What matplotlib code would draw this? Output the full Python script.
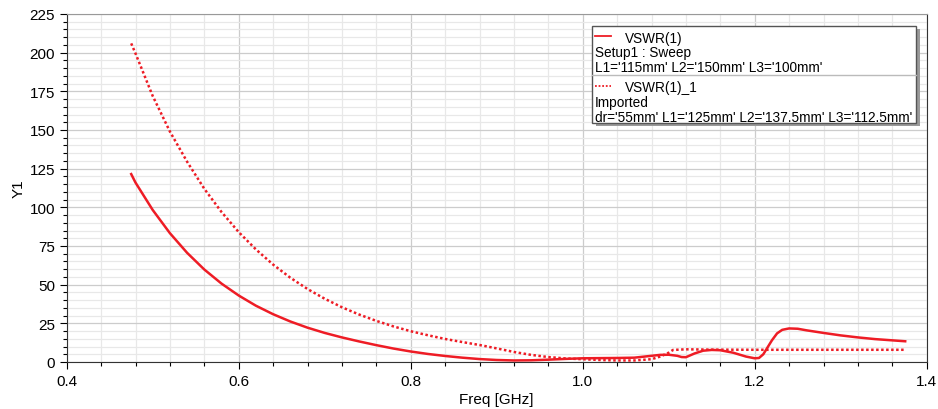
"""VSWR sweep vs imported design: recreated chart."""

import matplotlib
matplotlib.use("Agg")
import matplotlib.pyplot as plt
from matplotlib.patches import Rectangle
from matplotlib.lines import Line2D
from matplotlib.ticker import MultipleLocator

plt.rcParams["font.family"] = ["Liberation Sans", "DejaVu Sans"]

RED = "#ee1c25"

# solid trace: VSWR(1), Setup1 : Sweep
FREQ_SWEEP = [0.475, 0.48, 0.50, 0.52, 0.54, 0.56, 0.58, 0.60, 0.62, 0.64, 0.66,
              0.68, 0.70, 0.72, 0.74, 0.76, 0.78, 0.80, 0.82, 0.84, 0.86, 0.88,
              0.90, 0.92, 0.94, 0.96, 0.98, 1.00, 1.02, 1.04, 1.06, 1.08, 1.09,
              1.10, 1.11, 1.115, 1.12, 1.13, 1.14, 1.15, 1.16, 1.175, 1.19,
              1.20, 1.205, 1.21, 1.215, 1.22, 1.226, 1.232, 1.24, 1.25, 1.26,
              1.28, 1.30, 1.32, 1.34, 1.36, 1.375]
VSWR_SWEEP = [121.5, 116, 98.3, 83.3, 70.6, 59.8, 50.7, 43, 36.4, 30.9, 26.2,
              22.2, 18.8, 15.9, 13.3, 10.9, 8.7, 6.8, 5.2, 3.9, 2.8, 1.9,
              1.3, 1.0, 1.1, 1.5, 2.0, 2.4, 2.5, 2.6, 2.8, 4.0, 4.6,
              4.7, 4.0, 3.2, 3.1, 5.5, 7.3, 7.8, 7.6, 6.0, 3.5,
              2.4, 2.6, 5.0, 9.5, 14, 18.5, 20.8, 21.7, 21.5, 20.5,
              18.8, 17.2, 15.9, 14.8, 14.0, 13.4]

# dotted trace: VSWR(1)_1, Imported
FREQ_IMPORT = [0.475, 0.48, 0.50, 0.52, 0.54, 0.56, 0.58, 0.60, 0.62, 0.64, 0.66,
               0.68, 0.70, 0.72, 0.74, 0.76, 0.78, 0.80, 0.82, 0.84, 0.86, 0.88,
               0.90, 0.92, 0.94, 0.96, 0.98, 1.00, 1.02, 1.04, 1.06, 1.08, 1.09,
               1.10, 1.105, 1.12, 1.15, 1.20, 1.25, 1.30, 1.375]
VSWR_IMPORT = [206, 199.5, 172, 149, 129.5, 112, 97, 84, 72.8, 63, 54.5,
               47.2, 40.9, 35.4, 30.7, 26.6, 23, 19.9, 17.3, 14.9, 12.9, 11.0,
               8.8, 6.5, 4.6, 3.2, 2.3, 1.8, 1.3, 1.0, 1.0, 1.8, 3.5,
               6.0, 7.8, 8.2, 8.0, 7.9, 7.9, 7.9, 7.9]

LEGEND_ROWS = [
    ("VSWR(1)", "Setup1 : Sweep", "L1='115mm' L2='150mm' L3='100mm'", "-"),
    ("VSWR(1)_1", "Imported", "dr='55mm' L1='125mm' L2='137.5mm' L3='112.5mm'", ":"),
]

W, H = 938, 410
fig = plt.figure(figsize=(W / 100, H / 100), dpi=100)
ax = fig.add_axes([66.7 / W, 1 - 363 / H, (926.7 - 66.7) / W, (363 - 15) / H])

ax.plot(FREQ_SWEEP, VSWR_SWEEP, color=RED, lw=1.8, ls="-", zorder=3)
ax.plot(FREQ_IMPORT, VSWR_IMPORT, color=RED, lw=1.8, ls=(0, (1, 1)), zorder=3)

ax.set_xlim(0.4, 1.4)
ax.set_ylim(0, 225)
ax.xaxis.set_major_locator(MultipleLocator(0.2))
ax.xaxis.set_minor_locator(MultipleLocator(0.04))
ax.yaxis.set_major_locator(MultipleLocator(25))
ax.yaxis.set_minor_locator(MultipleLocator(5))
ax.xaxis.set_major_formatter(plt.FuncFormatter(lambda v, _: f"{v:.1f}"))
ax.grid(which="major", color="#cccccc", lw=0.9)
ax.grid(which="minor", color="#e8e8e8", lw=0.9)
ax.set_axisbelow(True)
ax.tick_params(which="major", direction="out", length=5, width=0.8, labelsize=11)
ax.tick_params(which="minor", direction="out", length=3, width=0.8)
for side in ["left", "bottom", "right"]:
    ax.spines[side].set_color("#333333")
ax.spines["top"].set_color("#999999")
ax.set_xlabel("Freq [GHz]", fontsize=11, labelpad=3)
ax.set_ylabel("Y1", fontsize=11, labelpad=3)


# legend box drawn in pixel space (top-left origin)
def px(x, y):
    return x / W, 1 - y / H


bx0, by0, bx1, by1 = 592, 27, 915.5, 124
fig.patches.append(Rectangle(px(bx0 + 4, by1 + 3), (bx1 - bx0) / W, (by1 - by0) / H,
                             transform=fig.transFigure, facecolor="#9a9a9a",
                             edgecolor="none", zorder=4))
fig.patches.append(Rectangle(px(bx0, by1), (bx1 - bx0) / W, (by1 - by0) / H,
                             transform=fig.transFigure, facecolor="white",
                             edgecolor="#555555", lw=1.0, zorder=5))
fig.lines.append(Line2D([px(bx0, 0)[0], px(bx1, 0)[0]], [px(0, 76)[1]] * 2,
                        transform=fig.transFigure, color="#bbbbbb", lw=1.0, zorder=6))

for i, (name, source, params, style) in enumerate(LEGEND_ROWS):
    y0 = 37 + i * 49.5
    ls = "-" if style == "-" else (0, (1, 1))
    fig.lines.append(Line2D([px(595, 0)[0], px(611, 0)[0]], [px(0, y0)[1]] * 2,
                            transform=fig.transFigure, color=RED, lw=1.3, ls=ls, zorder=6))
    fig.text(*px(625, y0 + 1.5), name, fontsize=9.8, va="center", zorder=7)
    fig.text(*px(595, y0 + 16.5), source, fontsize=9.8, va="center", zorder=7)
    fig.text(*px(595, y0 + 31.5), params, fontsize=9.8, va="center", zorder=7)

fig.savefig("out.png", dpi=100)
